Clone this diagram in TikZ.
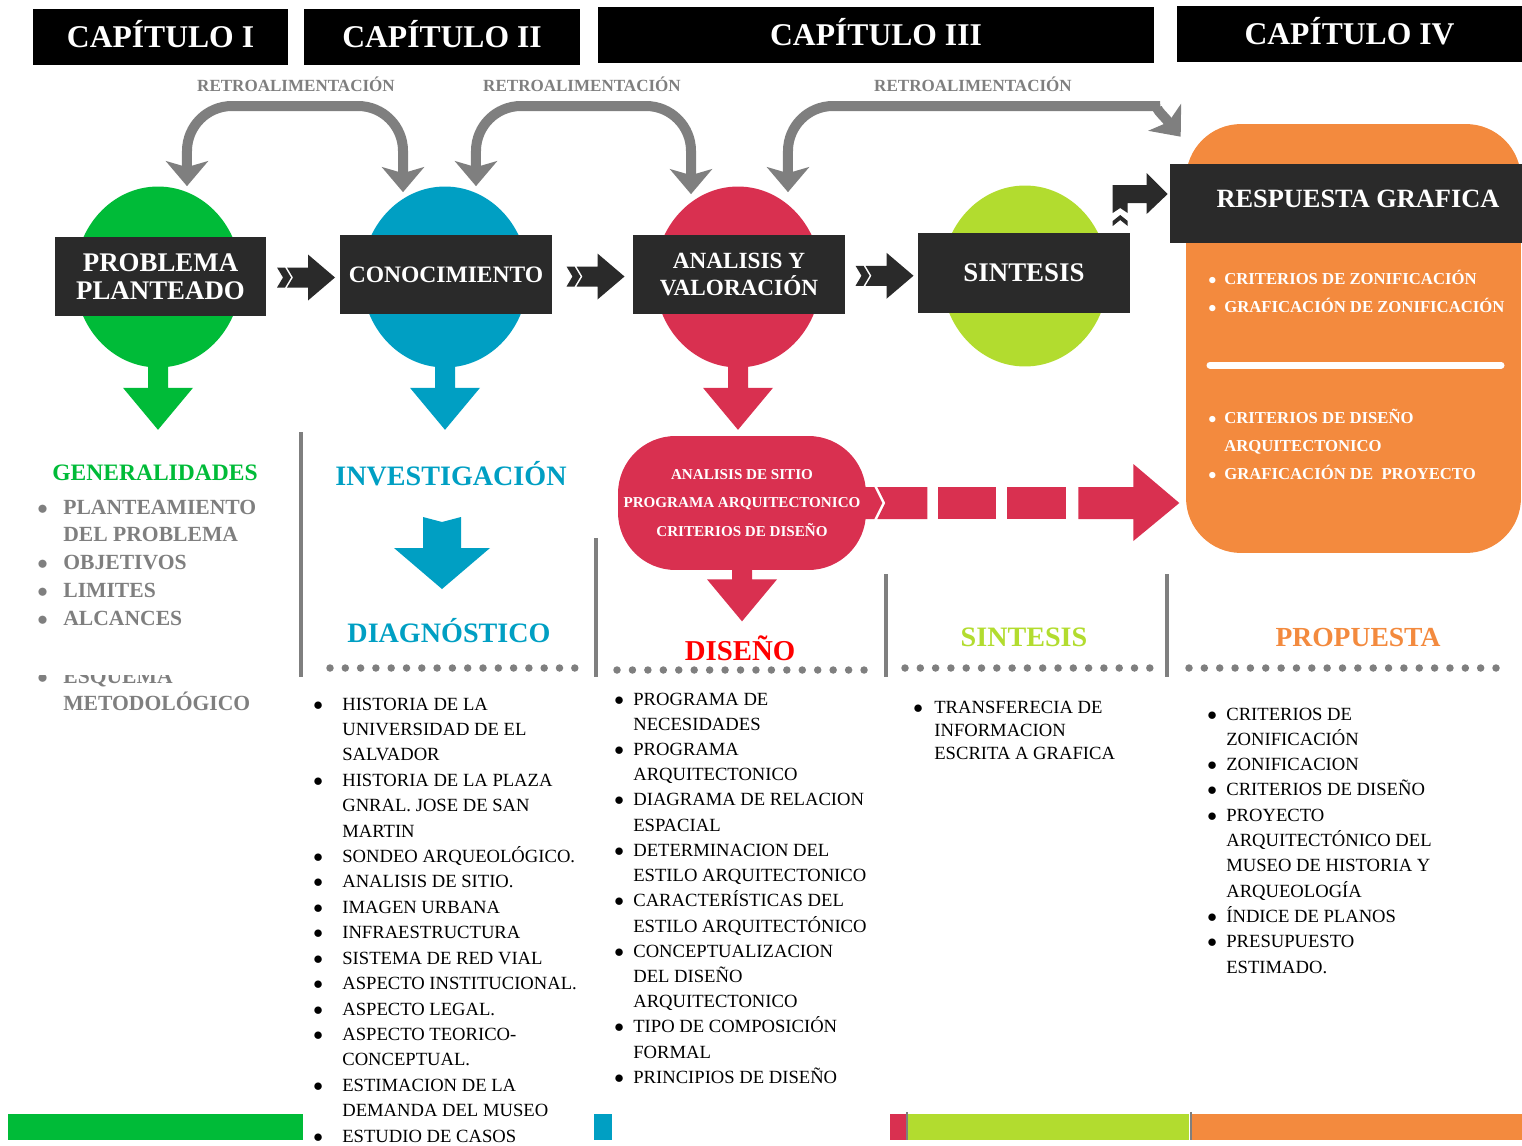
\documentclass[tikz,border=0pt]{standalone}
\usepackage{fontspec}
\setmainfont{Liberation Serif}
\usetikzlibrary{shapes.geometric,arrows.meta,calc}

\definecolor{cgreen}{HTML}{00BB38}
\definecolor{cblue}{HTML}{009FC3}
\definecolor{cred}{HTML}{D93050}
\definecolor{clime}{HTML}{B2DC2F}
\definecolor{corange}{HTML}{F38A3E}
\definecolor{cdark}{HTML}{2A2A2A}
\definecolor{cgrey}{HTML}{7F7F7F}

\tikzset{
  chap/.style={fill=black, text=white, font=\bfseries\fontsize{18}{18}\selectfont,
    text height=0.42cm, text depth=0cm, minimum height=1.12cm, inner sep=0},
  darkbox/.style={fill=cdark, text=white, font=\bfseries\fontsize{15.3}{15.9}\selectfont,
    minimum width=4.24cm, minimum height=1.58cm, align=center, inner sep=0},
  blob/.style={ellipse, minimum width=3.32cm, minimum height=3.62cm, inner sep=0},
  fback/.style={draw=cgrey, line width=0.2cm, rounded corners=0.9cm,
    >={Stealth[length=0.5cm,width=0.84cm,inset=0.12cm]}, <->},
  retro/.style={text=cgrey, font=\bfseries\fontsize{9.7}{10}\selectfont, anchor=base},
  head/.style={font=\bfseries\fontsize{16}{16}\selectfont, anchor=base},
  lst/.style={anchor=base west, inner sep=0, font=\fontsize{10.6}{14.4}\selectfont},
}

\newcommand{\bul}{$\bullet$}

% arrow down out of a shape: colour, anchor, stem length
\newcommand{\dnarrow}[3]{%
  \fill[#1] (#2) ++(-10,-4) -- ++(20,0) -- ++(0,#3) -- ++(25,0) -- ++(-35,42)
    -- ++(-35,-42) -- ++(25,0) -- cycle;}

% chevron arrow between two boxes
\newcommand{\chev}[1]{%
  \begin{scope}[shift={#1}, yshift=-0.04cm]
    \fill[cdark] (-26,-10) -- (-18,-10) -- (-12,0) -- (-18,10) -- (-26,10) -- (-20,0) -- cycle;
    \fill[cdark] (-16,-10) -- (5,-10) -- (5,-23) -- (32,0) -- (5,23) -- (5,10) -- (-16,10) -- (-10,0) -- cycle;
  \end{scope}}

\begin{document}
\begin{tikzpicture}[x=0.02cm, y=-0.02cm]
\useasboundingbox (0,0) rectangle (1522,1146);

% chapters
\node[chap, minimum width=5.1cm] (cap1) at (160.5,37) {CAPÍTULO I};
\node[chap, minimum width=5.52cm] (cap2) at (442,37) {CAPÍTULO II};
\node[chap, minimum width=11.12cm] (cap3) at (876,35) {CAPÍTULO III};
\node[chap, minimum width=6.9cm] (cap4) at (1349.5,34) {CAPÍTULO IV};

\node[retro] (retro1) at (296,91) {RETROALIMENTACIÓN};
\node[retro] (retro2) at (582,91) {RETROALIMENTACIÓN};
\node[retro] (retro3) at (973,91) {RETROALIMENTACIÓN};

% answer box
\node[fill=corange, rounded corners=1.1cm, minimum width=6.7cm, minimum height=8.58cm,
  inner sep=0] (orbox) at (1353.5,338.5) {};

% circles
\node[blob, fill=cgreen] (cprob) at (158,277) {};
\node[blob, fill=cblue] (cconoc) at (445,277) {};
\node[blob, fill=cred] (canal) at (738,277) {};
\node[blob, fill=clime] (csint) at (1025,276) {};

\dnarrow{cgreen}{cprob.south}{24}
\dnarrow{cblue}{cconoc.south}{24}
\dnarrow{cred}{canal.south}{24}

\node[darkbox, minimum width=4.22cm] (prob) at (160.5,276.5) {PROBLEMA\\PLANTEADO};
\node[darkbox, font=\bfseries\fontsize{13.4}{14}\selectfont] (conoc) at (446,274.5) {CONOCIMIENTO};
\node[darkbox, font=\bfseries\fontsize{13.2}{15.9}\selectfont] (anal) at (739,274.5) {ANALISIS Y\\VALORACIÓN};
\node[darkbox, minimum height=1.6cm] (sint) at (1024,273) {SINTESIS};
\node[darkbox, minimum width=7.04cm, font=\bfseries\fontsize{15}{15}\selectfont,
  text height=0.35cm, text depth=0.2cm] (resp) at (1346,203.5) {\hspace*{0.48cm}RESPUESTA GRAFICA};

\chev{($(prob.east)!0.5!(conoc.west)$)}
\chev{($(conoc.east)!0.5!(anal.west)$)}
\chev{($(anal.east)!0.5!(sint.west)$)}

% bent arrow into the answer box
\begin{scope}[shift={(resp.west)}]
  \fill[cdark] (-57,9.5) -- (-57,-18.5) -- (-23,-18.5) -- (-23,-30.5) -- (-2,-9.5) -- (-23,10.5)
    -- (-23,-0.5) -- (-42,-0.5) -- (-42,9.5) -- (-49.5,4.5) -- cycle;
  \fill[cdark] (-57,22.5) -- (-57,17.5) -- (-49.5,11.5) -- (-42,17.5) -- (-42,22.5) -- (-49.5,16.5) -- cycle;
\end{scope}

% feedback
\draw[fback] ([xshift=0.58cm]cprob.north) |- (300,106) -| ([xshift=-0.84cm,yshift=-0.12cm]cconoc.north);
\draw[fback] ([xshift=0.62cm]cconoc.north) |- (580,106) -| ([xshift=-0.94cm,yshift=-0.16cm]canal.north);
\coordinate (respin) at ([shift={(-5,13)}]orbox.north west);
\draw[fback] ([xshift=1.0cm,yshift=-0.12cm]canal.north) |- (1115,106)
  .. controls (1152,106) and (1162,114) .. (respin);

% design box
\node[fill=cred, rounded corners=1.15cm, minimum width=4.96cm, minimum height=2.68cm, inner sep=0,
  text=white, align=center, font=\bfseries\fontsize{8.6}{16.2}\selectfont] (redbox) at (742,503)
  {ANALISIS DE SITIO\\PROGRAMA ARQUITECTONICO\\CRITERIOS DE DISEÑO};
\dnarrow{cred}{redbox.south}{13}
\begin{scope}[shift={(redbox.east)}]
  \fill[cred] (-6,-16) -- (8,-16) -- (16,0) -- (8,16) -- (-6,16) -- cycle;
  \fill[cred] (11,-16) -- (61,-16) -- (61,16) -- (11,16) -- (19,0) -- cycle;
  \fill[cred] (72,-16) rectangle (130,16);
  \fill[cred] (141,-16) rectangle (200,16);
  \fill[cred] (212,-16) -- (267,-16) -- (267,-39) -- (313,0) -- (267,38) -- (267,16) -- (212,16) -- cycle;
\end{scope}

% inside the answer box
\node[lst, text=white, font=\bfseries\fontsize{9.5}{16.4}\selectfont] (zlist) at (1208,284)
  {\begin{tabular}[t]{@{}p{0.32cm}@{}l@{}}
  \bul & CRITERIOS DE ZONIFICACIÓN\\
  \bul & GRAFICACIÓN DE ZONIFICACIÓN
  \end{tabular}};
\draw[white, line width=0.14cm, line cap=round] (1210,365) -- (1501,365);
\node[lst, text=white, font=\bfseries\fontsize{9.5}{16.2}\selectfont] (dlist) at (1208,423)
  {\begin{tabular}[t]{@{}p{0.32cm}@{}l@{}}
  \bul & CRITERIOS DE DISEÑO\\
  & ARQUITECTONICO\\
  \bul & GRAFICACIÓN DE\ \ PROYECTO
  \end{tabular}};

% columns
\node[head, text=cgreen, font=\bfseries\fontsize{13.4}{14}\selectfont] (gen) at (155,480) {GENERALIDADES};
\node[head, text=cblue] (invest) at (451,485) {INVESTIGACIÓN};
\node[head, text=cblue] (diag) at (449,642) {DIAGNÓSTICO};
\node[head, text=red, font=\bfseries\fontsize{16.4}{17}\selectfont] (disen) at (740,660) {DISEÑO};
\node[head, text=clime] (sint2) at (1024,646) {SINTESIS};
\node[head, text=corange, font=\bfseries\fontsize{15.7}{16}\selectfont] (prop) at (1358,646) {PROPUESTA};

\begin{scope}[shift={($(invest.base)!0.5!(diag.base)$)}]
  \fill[cblue] (-27,-46.5) -- (-8,-41.5) -- (11,-46.5) -- (11,-15.5) -- (40,-15.5) -- (-8,25.5)
    -- (-56,-15.5) -- (-27,-15.5) -- cycle;
\end{scope}

\draw[cgrey, line width=0.08cm] (301,432) -- (301,677);
\draw[cgrey, line width=0.08cm] (596,538) -- (596,677);
\draw[cgrey, line width=0.08cm] (886,574) -- (886,677);
\draw[cgrey, line width=0.08cm] (1167,574) -- (1167,677);

\foreach \i in {0,...,16} \fill[cgrey] ({330+15.3*\i},668) circle (0.075cm);
\foreach \i in {0,...,16} \fill[cgrey] ({617+15.44*\i},670) circle (0.075cm);
\foreach \i in {0,...,16} \fill[cgrey] ({905+15.3*\i},668) circle (0.075cm);
\foreach \i in {0,...,20} \fill[cgrey] ({1189+15.35*\i},668) circle (0.075cm);

\node[lst, text=cgrey, font=\bfseries\fontsize{12.3}{15.9}\selectfont] (genlist) at (37,514)
  {\begin{tabular}[t]{@{}p{0.52cm}@{}l@{}}
  \bul & PLANTEAMIENTO\\
  & DEL PROBLEMA\\
  \bul & OBJETIVOS\\
  \bul & LIMITES\\
  \bul & ALCANCES
  \end{tabular}};
\begin{scope}
  \clip (0,675) rectangle (300,720);
  \node[lst, text=cgrey, font=\bfseries\fontsize{12.3}{15.9}\selectfont] (esq) at (37,683)
    {\begin{tabular}[t]{@{}p{0.52cm}@{}l@{}}
    \bul & ESQUEMA\\
    & METODOLÓGICO
    \end{tabular}};
\end{scope}

\node[lst, font=\fontsize{10.6}{14.47}\selectfont] (invlist) at (313,710)
  {\begin{tabular}[t]{@{}p{0.58cm}@{}l@{}}
  \bul & HISTORIA DE LA\\
  & UNIVERSIDAD DE EL\\
  & SALVADOR\\
  \bul & HISTORIA DE LA PLAZA\\
  & GNRAL. JOSE DE SAN\\
  & MARTIN\\
  \bul & SONDEO ARQUEOLÓGICO.\\
  \bul & ANALISIS DE SITIO.\\
  \bul & IMAGEN URBANA\\
  \bul & INFRAESTRUCTURA\\
  \bul & SISTEMA DE RED VIAL\\
  \bul & ASPECTO INSTITUCIONAL.\\
  \bul & ASPECTO LEGAL.\\
  \bul & ASPECTO TEORICO-\\
  & CONCEPTUAL.\\
  \bul & ESTIMACION DE LA\\
  & DEMANDA DEL MUSEO\\
  \bul & ESTUDIO DE CASOS
  \end{tabular}};

\node[lst, font=\fontsize{10.6}{14.36}\selectfont] (dislist) at (614,705)
  {\begin{tabular}[t]{@{}p{0.38cm}@{}l@{}}
  \bul & PROGRAMA DE\\
  & NECESIDADES\\
  \bul & PROGRAMA\\
  & ARQUITECTONICO\\
  \bul & DIAGRAMA DE RELACION\\
  & ESPACIAL\\
  \bul & DETERMINACION DEL\\
  & ESTILO ARQUITECTONICO\\
  \bul & CARACTERÍSTICAS DEL\\
  & ESTILO ARQUITECTÓNICO\\
  \bul & CONCEPTUALIZACION\\
  & DEL DISEÑO\\
  & ARQUITECTONICO\\
  \bul & TIPO DE COMPOSICIÓN\\
  & FORMAL\\
  \bul & PRINCIPIOS DE DISEÑO
  \end{tabular}};

\node[lst, font=\fontsize{10.6}{13.3}\selectfont] (sinlist) at (913,713)
  {\begin{tabular}[t]{@{}p{0.42cm}@{}l@{}}
  \bul & TRANSFERECIA DE\\
  & INFORMACION\\
  & ESCRITA A GRAFICA
  \end{tabular}};

\node[lst] (prolist) at (1207,720)
  {\begin{tabular}[t]{@{}p{0.38cm}@{}l@{}}
  \bul & CRITERIOS DE\\
  & ZONIFICACIÓN\\
  \bul & ZONIFICACION\\
  \bul & CRITERIOS DE DISEÑO\\
  \bul & PROYECTO\\
  & ARQUITECTÓNICO DEL\\
  & MUSEO DE HISTORIA Y\\
  & ARQUEOLOGÍA\\
  \bul & ÍNDICE DE PLANOS\\
  \bul & PRESUPUESTO\\
  & ESTIMADO.
  \end{tabular}};

% bottom strip
\fill[cgreen] (8,1114) rectangle (303,1140);
\fill[cblue] (594,1114) rectangle (612,1140);
\fill[cred] (890,1114) rectangle (906,1140);
\fill[clime] (908,1114) rectangle (1189,1140);
\fill[corange] (1192,1114) rectangle (1522,1140);
\draw[cgrey, line width=0.04cm] (907,1112) -- (907,1140);
\draw[cgrey, line width=0.04cm] (1190.5,1112) -- (1190.5,1140);
\end{tikzpicture}
\end{document}
